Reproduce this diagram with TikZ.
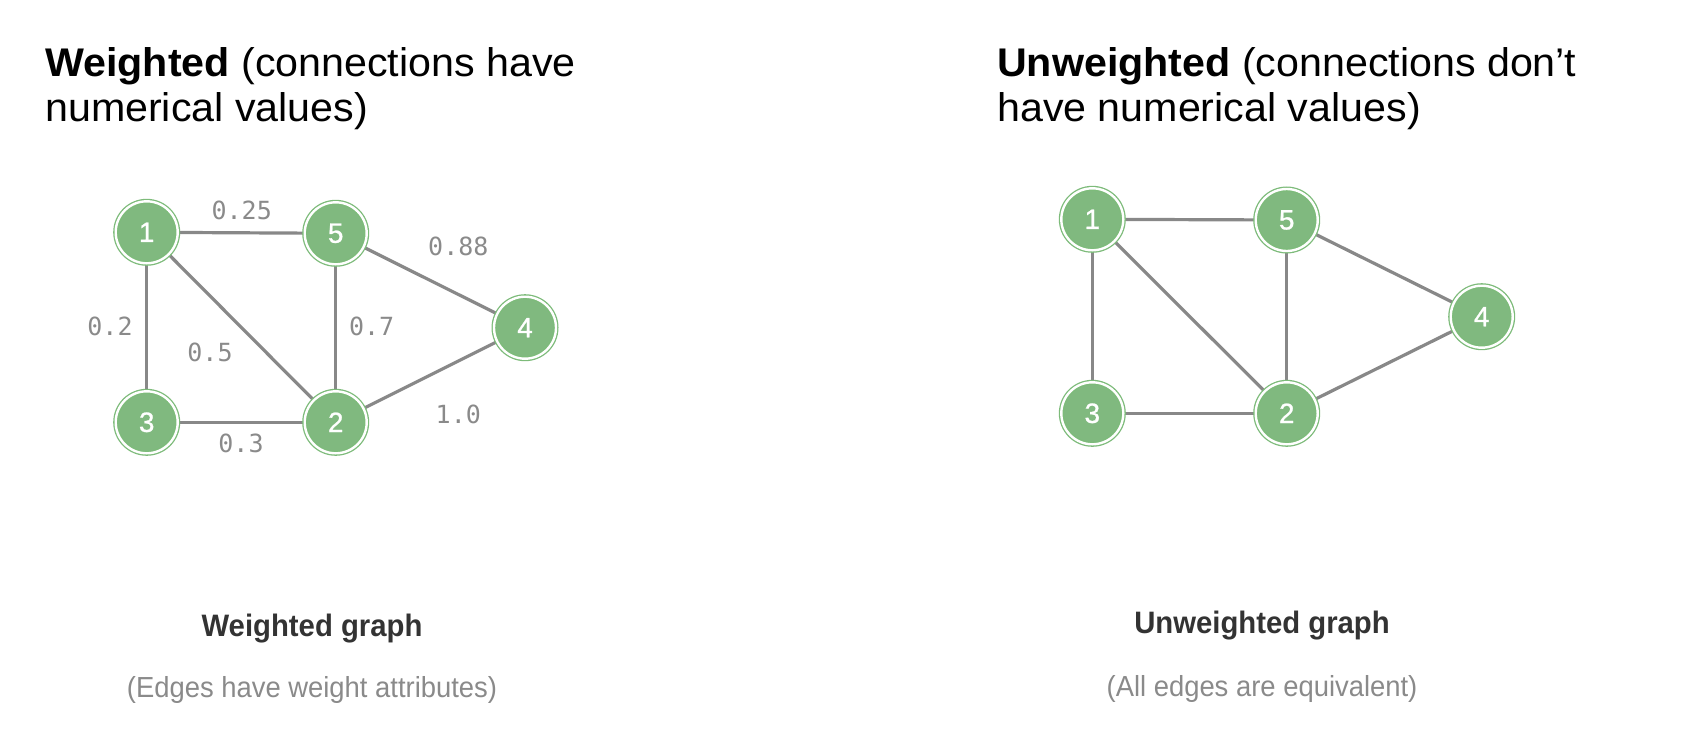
\documentclass[tikz,border=0pt]{standalone}
\usepackage{fontspec}
\setmainfont{Liberation Sans}
\newfontfamily\headfont[FakeStretch=1.03]{Liberation Sans}
\newfontfamily\capfont[FakeStretch=0.945]{Liberation Sans}
\newfontfamily\numfont[FakeBold=0.8]{Liberation Sans}
\newfontfamily\monofont{DejaVu Sans Mono}
\usetikzlibrary{backgrounds}
\definecolor{gfill}{HTML}{80B97F}
\definecolor{gring}{HTML}{7DBB7A}
\definecolor{edgecol}{HTML}{888888}
\definecolor{labcol}{HTML}{8A8A8A}
\definecolor{captcol}{HTML}{333333}
\begin{document}
\begin{tikzpicture}[x=1pt,y=-1pt,
  gnode/.style={circle, fill=gfill, draw=gring, line width=1.3pt, double=white, double distance=2.4pt,
     minimum size=62pt, inner sep=0pt, text=white, font=\numfont\fontsize{28}{28}\selectfont},
  gedge/.style={draw=edgecol, line width=3.2pt},
  wlab/.style={text=labcol, font=\monofont\fontsize{25}{25}\selectfont, inner sep=0pt},
  head/.style={anchor=base west, font=\headfont\fontsize{40}{46}\selectfont, inner sep=0pt, text=black},
  capt/.style={anchor=base, font=\capfont\bfseries\fontsize{31}{31}\selectfont, text=captcol, inner sep=0pt},
  sub/.style={anchor=base, font=\capfont\fontsize{29}{29}\selectfont, text=labcol, inner sep=0pt}]
\useasboundingbox (0,0) rectangle (1693,736);
% headings
\node[head] (hl1) at (45,76) {\textbf{Weighted} (connections have};
\node[head] (hl2) at (45,121.7) {numerical values)};
\node[head] (hr1) at (997,76) {\textbf{Unweighted} (connections don’t};
\node[head] (hr2) at (997,121.7) {have numerical values)};
% left graph
\node[gnode] (l1) at (146.7,232.3) {1};
\node[gnode] (l5) at (335.7,233.3) {5};
\node[gnode] (l4) at (525,327.7) {4};
\node[gnode] (l3) at (146.7,422.3) {3};
\node[gnode] (l2) at (335.7,422.3) {2};
\begin{scope}[on background layer]
\draw[gedge] (l1) -- (l5);
\draw[gedge] (l1) -- (l3);
\draw[gedge] (l1) -- (l2);
\draw[gedge] (l5) -- (l2);
\draw[gedge] (l5) -- (l4);
\draw[gedge] (l3) -- (l2);
\draw[gedge] (l2) -- (l4);
\end{scope}
\node[wlab] (w15) at (241.7,210.7) {0.25};
\node[wlab] (w54) at (458.3,246.7) {0.88};
\node[wlab] (w13) at (110,326.5) {0.2};
\node[wlab] (w12) at (210,352.7) {0.5};
\node[wlab] (w52) at (371.7,326.7) {0.7};
\node[wlab] (w24) at (458.3,414.3) {1.0};
\node[wlab] (w32) at (241,443.3) {0.3};
% right graph
\node[gnode] (r1) at (1092.3,219.3) {1};
\node[gnode] (r5) at (1286.7,220) {5};
\node[gnode] (r4) at (1481.7,316.7) {4};
\node[gnode] (r3) at (1092.3,413.3) {3};
\node[gnode] (r2) at (1286.7,413.3) {2};
\begin{scope}[on background layer]
\draw[gedge] (r1) -- (r5);
\draw[gedge] (r1) -- (r3);
\draw[gedge] (r1) -- (r2);
\draw[gedge] (r5) -- (r2);
\draw[gedge] (r5) -- (r4);
\draw[gedge] (r3) -- (r2);
\draw[gedge] (r2) -- (r4);
\end{scope}
% captions
\node[capt] (cl) at (312,636.7) {Weighted graph};
\node[sub] (sl) at (312,697) {(Edges have weight attributes)};
\node[capt] (cr) at (1262,633.5) {Unweighted graph};
\node[sub] (sr) at (1262,696) {(All edges are equivalent)};
\end{tikzpicture}
\end{document}
